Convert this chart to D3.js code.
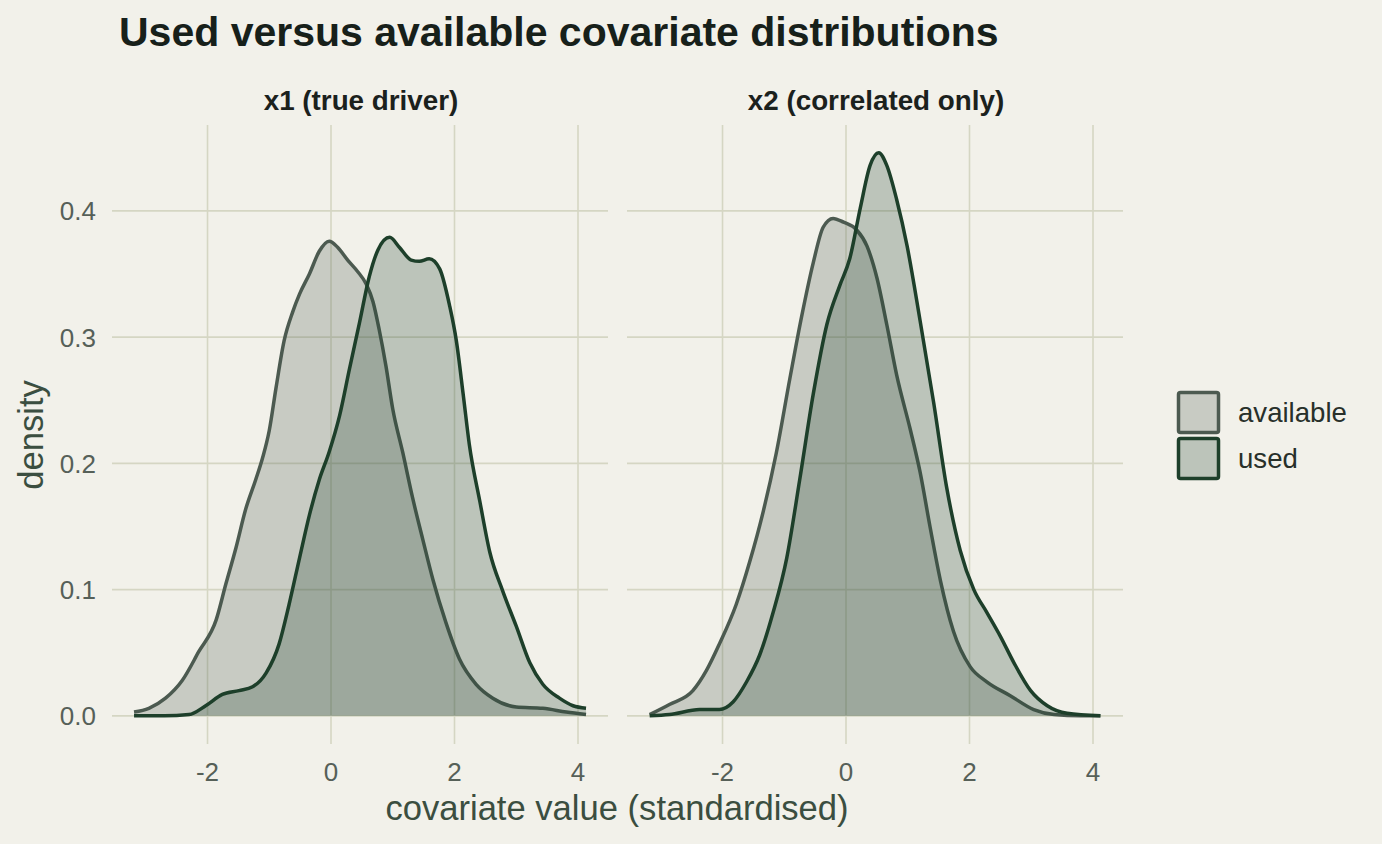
<!DOCTYPE html>
<html><head><meta charset="utf-8">
<script src="https://cdn.jsdelivr.net/npm/d3@7"></script>
<style>
html,body{margin:0;padding:0;background:#f2f1ea;}
svg{display:block;font-family:"Liberation Sans",Arial,Helvetica,sans-serif;}
</style></head>
<body><svg id="chart" width="1382" height="844"></svg>
<script>
// ---- data ----
const panels = ["x1 (true driver)", "x2 (correlated only)"];
const groups = ["available", "used"];
const xTicks = [-2, 0, 2, 4];
const yTicks = [0, 0.1, 0.2, 0.3, 0.4];

const x1AvailX = [-3.19,-2.95,-2.68,-2.41,-2.14,-1.86,-1.70,-1.54,-1.38,-1.22,-1.11,-1.0,-0.89,-0.76,-0.62,-0.51,-0.35,-0.19,-0.03,0.11,0.27,0.43,0.57,0.68,0.78,0.89,1.0,1.16,1.32,1.49,1.65,1.86,2.08,2.35,2.62,3.0,3.43,3.81,4.13];
const x1AvailY = [0.003,0.006,0.014,0.028,0.051,0.076,0.105,0.133,0.164,0.187,0.204,0.226,0.260,0.297,0.320,0.334,0.350,0.368,0.376,0.371,0.361,0.352,0.342,0.328,0.306,0.277,0.243,0.209,0.173,0.139,0.108,0.074,0.045,0.025,0.014,0.007,0.006,0.003,0.001];
const x1UsedX = [-3.19,-2.7,-2.30,-2.03,-1.76,-1.49,-1.27,-1.05,-0.84,-0.68,-0.51,-0.35,-0.19,-0.03,0.14,0.30,0.46,0.62,0.76,0.95,1.11,1.30,1.43,1.59,1.76,1.92,2.03,2.14,2.24,2.41,2.57,2.78,3.0,3.22,3.43,3.70,3.92,4.13];
const x1UsedY = [0.000,0.000,0.001,0.008,0.017,0.020,0.023,0.034,0.057,0.088,0.125,0.159,0.187,0.209,0.238,0.275,0.311,0.348,0.369,0.379,0.371,0.361,0.360,0.362,0.354,0.325,0.297,0.255,0.215,0.170,0.130,0.099,0.071,0.042,0.025,0.014,0.008,0.006];
const x2AvailX = [-3.18,-2.86,-2.48,-2.26,-2.05,-1.78,-1.56,-1.34,-1.13,-0.91,-0.72,-0.53,-0.37,-0.21,-0.04,0.17,0.34,0.50,0.66,0.82,1.04,1.20,1.36,1.53,1.74,2.01,2.28,2.66,3.04,3.37,3.8,4.12];
const x2AvailY = [0.001,0.009,0.020,0.036,0.057,0.088,0.122,0.162,0.208,0.267,0.316,0.359,0.387,0.394,0.391,0.385,0.372,0.347,0.310,0.270,0.227,0.193,0.150,0.107,0.067,0.039,0.027,0.016,0.005,0.001,0.000,0.000];
const x2UsedX = [-3.18,-2.86,-2.37,-2.05,-1.83,-1.61,-1.40,-1.18,-0.96,-0.75,-0.53,-0.31,-0.10,0.06,0.23,0.39,0.53,0.66,0.82,0.99,1.20,1.42,1.63,1.85,2.07,2.28,2.50,2.72,2.99,3.26,3.58,4.12];
const x2UsedY = [0.000,0.001,0.005,0.005,0.011,0.027,0.048,0.082,0.125,0.187,0.255,0.310,0.341,0.362,0.402,0.436,0.446,0.436,0.409,0.372,0.313,0.248,0.181,0.131,0.100,0.082,0.063,0.042,0.020,0.008,0.002,0.000];

const curves = [
  {panel:0, group:"available", xs:x1AvailX, ys:x1AvailY},
  {panel:0, group:"used", xs:x1UsedX, ys:x1UsedY},
  {panel:1, group:"available", xs:x2AvailX, ys:x2AvailY},
  {panel:1, group:"used", xs:x2UsedX, ys:x2UsedY}
];

// ---- styling ----
const colors = {available:"#4c5a50", used:"#1d3f2a"};
const bg = "#f2f1ea", gridCol = "#d5d6c3";

const svg = d3.select("#chart");
svg.append("rect").attr("width",1382).attr("height",844).attr("fill",bg);

const panelW = 496, panelLeft = [112, 627];
const plotTop = 125, plotBottom = 744;

const y = d3.scaleLinear().domain([-0.0223, 0.468]).range([plotBottom, plotTop]);

panels.forEach((name, i) => {
  const x = d3.scaleLinear().domain([-3.547, 4.486]).range([panelLeft[i], panelLeft[i] + panelW]);
  const g = svg.append("g");
  // grid
  g.selectAll(".gx").data(xTicks).join("line")
    .attr("x1", d => x(d)).attr("x2", d => x(d)).attr("y1", plotTop).attr("y2", plotBottom)
    .attr("stroke", gridCol).attr("stroke-width", 1.6);
  g.selectAll(".gy").data(yTicks).join("line")
    .attr("x1", panelLeft[i]).attr("x2", panelLeft[i] + panelW).attr("y1", d => y(d)).attr("y2", d => y(d))
    .attr("stroke", gridCol).attr("stroke-width", 1.6);

  // curves
  curves.filter(c => c.panel === i).forEach(c => {
    const pts = c.xs.map((v, k) => [v, c.ys[k]]);
    const area = d3.area().x(d => x(d[0])).y0(y(0)).y1(d => y(d[1])).curve(d3.curveMonotoneX);
    const line = d3.line().x(d => x(d[0])).y(d => y(d[1])).curve(d3.curveMonotoneX);
    g.append("path").datum(pts).attr("d", area).attr("fill", colors[c.group]).attr("fill-opacity", 0.25);
    g.append("path").datum(pts).attr("d", line).attr("fill", "none")
      .attr("stroke", colors[c.group]).attr("stroke-width", 3.5).attr("stroke-linejoin","round");
  });

  // x tick labels
  g.selectAll(".xt").data(xTicks).join("text")
    .attr("x", d => x(d)).attr("y", 781).attr("text-anchor", "middle")
    .attr("font-size", 26).attr("fill", "#566058")
    .text(d => d < 0 ? "-" + Math.abs(d) : d);

  // strip label
  g.append("text").attr("x", panelLeft[i] + panelW / 2 + 1).attr("y", 110)
    .attr("text-anchor", "middle").attr("font-size", 27.8).attr("font-weight", "bold")
    .attr("fill", "#1b211d").text(name);
});

// y tick labels
svg.selectAll(".yt").data(yTicks).join("text")
  .attr("x", 96).attr("y", d => y(d) + 9.5).attr("text-anchor", "end")
  .attr("font-size", 26).attr("fill", "#566058")
  .text(d => d3.format(".1f")(d));

// axis titles
svg.append("text").attr("x", 617).attr("y", 820).attr("text-anchor", "middle")
  .attr("font-size", 34.6).attr("fill", "#3b4e40").text("covariate value (standardised)");
svg.append("text").attr("transform", "translate(43,435) rotate(-90)").attr("text-anchor", "middle")
  .attr("font-size", 34.6).attr("fill", "#3b4e40").text("density");

// title
svg.append("text").attr("x", 119).attr("y", 46).attr("font-size", 41).attr("font-weight", "bold")
  .attr("fill", "#17201a").text("Used versus available covariate distributions");

// legend
groups.forEach((gname, k) => {
  const yy = 391 + k * 46;
  svg.append("rect").attr("x", 1178.5).attr("y", yy + 1.5).attr("width", 40).attr("height", 40)
    .attr("rx", 2).attr("fill", colors[gname]).attr("fill-opacity", 0.25)
    .attr("stroke", colors[gname]).attr("stroke-width", 3.5);
  svg.append("text").attr("x", 1238).attr("y", yy + 31).attr("font-size", 27.6)
    .attr("fill", "#28302a").text(gname);
});
</script></body></html>
